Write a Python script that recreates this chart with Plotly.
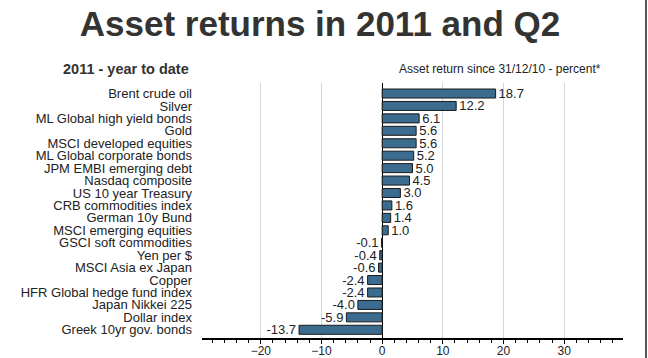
import plotly.graph_objects as go

categories = [
    "Brent crude oil", "Silver", "ML Global high yield bonds", "Gold",
    "MSCI developed equities", "ML Global corporate bonds", "JPM EMBI emerging debt",
    "Nasdaq composite", "US 10 year Treasury", "CRB commodities index",
    "German 10y Bund", "MSCI emerging equities", "GSCI soft commodities",
    "Yen per $", "MSCI Asia ex Japan", "Copper", "HFR Global hedge fund index",
    "Japan Nikkei 225", "Dollar index", "Greek 10yr gov. bonds",
]
returns = [18.7, 12.2, 6.1, 5.6, 5.6, 5.2, 5.0, 4.5, 3.0, 1.6, 1.4, 1.0,
           -0.1, -0.4, -0.6, -2.4, -2.4, -4.0, -5.9, -13.7]
x_ticks = [-20, -10, 0, 10, 20, 30]

FONT = "Liberation Sans, Arial, sans-serif"
W, H = 648, 358
L, R, T, B = 202, 25, 83, 20
pw, ph = W - L - R, H - T - B

def px_x(x):
    return (x - L) / pw

def px_y(y):
    return (H - B - y) / ph

fig = go.Figure(go.Bar(
    x=returns, y=categories, orientation="h",
    marker=dict(color="#3b6b8f", line=dict(color="#1a1a1a", width=1)),
    text=returns, texttemplate="%{x:.1f}", textposition="outside",
    constraintext="none",
    textfont=dict(family=FONT, size=13, color="#222"),
    cliponaxis=False,
))

fig.update_layout(
    width=W, height=H,
    margin=dict(l=L, r=R, t=T, b=B, autoexpand=False),
    paper_bgcolor="white", plot_bgcolor="white",
    showlegend=False, bargap=0.275,
    title=dict(text="Asset returns in 2011 and Q2", x=320 / W, xanchor="center",
               xref="container", y=1 - 24 / H, yanchor="middle", yref="container",
               font=dict(family=FONT, size=35, color="#333", weight="bold")),
    font=dict(family=FONT, color="#222"),
)

fig.update_xaxes(
    range=[-29.7, 39.7], tickvals=x_ticks, ticks="outside", ticklen=4,
    tickcolor="black", tickwidth=1,
    showgrid=True, gridcolor="#d6d6d6", gridwidth=1,
    zeroline=True, zerolinecolor="black", zerolinewidth=1,
    showline=True, linecolor="black", linewidth=1.5,
    minor=dict(dtick=2, tick0=0, ticks="outside", ticklen=3, tickcolor="black", showgrid=False),
    tickfont=dict(family=FONT, size=12, color="#222"),
    ticklabelstandoff=-3,
    automargin=False,
)
fig.update_yaxes(
    autorange=False, range=[19.66, -0.845], type="category",
    categoryorder="array", categoryarray=categories,
    tickmode="array", tickvals=categories, ticktext=categories,
    showgrid=False, showline=False, ticks="", ticklabelstandoff=9,
    tickfont=dict(family=FONT, size=13, color="#222"),
    automargin=False,
)

fig.add_annotation(text="2011 - year to date", xref="paper", yref="paper",
                   x=px_x(60.7), y=px_y(68.5), xanchor="left", yanchor="middle",
                   showarrow=False,
                   font=dict(family=FONT, size=14.5, color="#333", weight="bold"))
fig.add_annotation(text="Asset return since 31/12/10 - percent*", xref="paper", yref="paper",
                   x=px_x(396.7), y=px_y(69), xanchor="left", yanchor="middle",
                   showarrow=False,
                   font=dict(family=FONT, size=12, color="#222"))

fig.add_shape(type="line", xref="paper", yref="paper",
              x0=px_x(646), x1=px_x(646), y0=px_y(H), y1=px_y(0),
              line=dict(color="#555", width=2))

fig.write_html("out.html", config={"displayModeBar": False},
               post_script="document.body.style.margin='0';document.body.style.overflow='hidden';")
